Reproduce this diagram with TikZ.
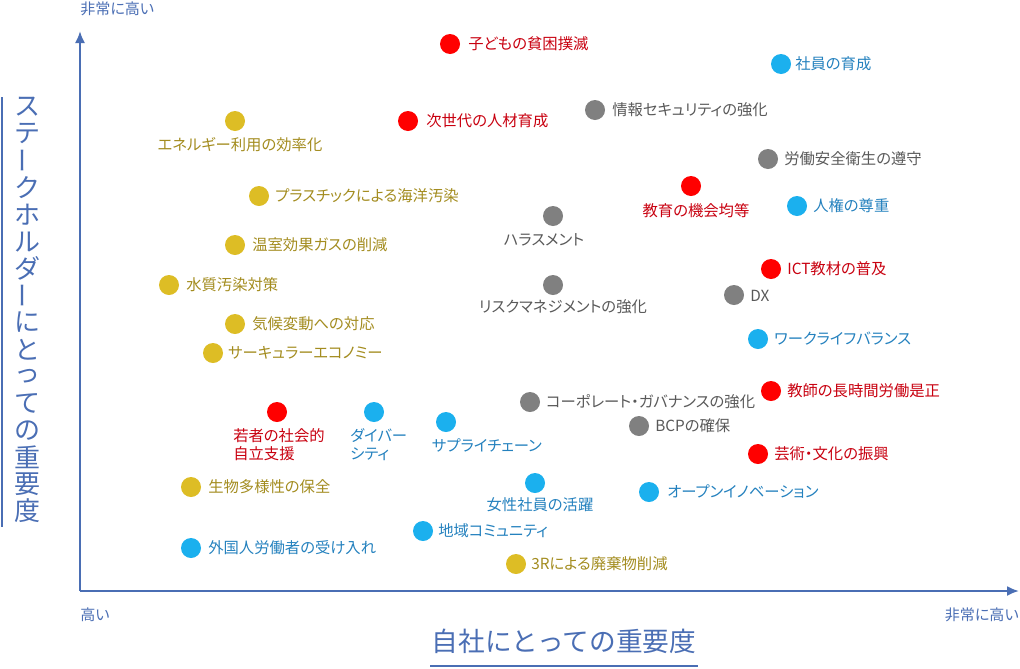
\documentclass[tikz,border=0pt]{standalone}
\usepackage{fontspec}
\usepackage{graphicx}
\setmainfont{Noto Sans CJK JP}[RawFeature={+palt}]
\newfontfamily\titlefont{Noto Sans CJK JP}
\usetikzlibrary{arrows.meta}
\definecolor{axisblue}{HTML}{4A6EB4}
\definecolor{dotred}{HTML}{FF0000}
\definecolor{txtred}{HTML}{C8000F}
\definecolor{dotblue}{HTML}{1BB0EE}
\definecolor{txtblue}{HTML}{2481BE}
\definecolor{dotgray}{HTML}{808080}
\definecolor{txtgray}{HTML}{595959}
\definecolor{dotyel}{HTML}{DDBD25}
\definecolor{txtyel}{HTML}{A38C1F}
\tikzset{
  dotbase/.style={circle,inner sep=0pt,minimum size=15pt},
  dr/.style={dotbase,fill=dotred},
  db/.style={dotbase,fill=dotblue},
  dg/.style={dotbase,fill=dotgray},
  dy/.style={dotbase,fill=dotyel},
  lab/.style={inner sep=0pt,font=\fontsize{11.5}{13.5}\selectfont},
  lr/.style={lab,text=txtred},
  lb/.style={lab,text=txtblue},
  lg/.style={lab,text=txtgray},
  ly/.style={lab,text=txtyel},
  axisline/.style={draw=axisblue,line width=1.5pt},
  axlab/.style={inner sep=0pt,text=axisblue,font=\fontsize{11.3}{13}\selectfont},
  ttl/.style={inner sep=0pt,text=axisblue,font=\titlefont\fontsize{20}{20}\selectfont},
  vttl/.style={inner sep=0pt,text=axisblue,font=\titlefont\fontsize{19.5}{19.5}\selectfont}
}
\begin{document}
\begin{tikzpicture}[x=0.75pt,y=-0.75pt]
\useasboundingbox (0,0) rectangle (1020,668);
% axes
\coordinate (O) at (80,591);
\coordinate (ytip) at (80,31);
\coordinate (xtip) at (1019,591);
\draw[axisline,-{Latex[length=9pt,width=7.5pt]}] (O) -- (ytip);
\draw[axisline,-{Latex[length=9pt,width=7.5pt]}] (O) -- (xtip);
\node[axlab,anchor=west] (yhigh) at (80,9) {非常に高い};
\node[axlab,anchor=west] (xlow) at (80,615) {高い};
\node[axlab,anchor=east] (xhigh) at (1019,615) {非常に高い};
% x title
\node[ttl] (xtitle) at (564,641) {自社にとっての重要度};
\coordinate (xu1) at (430,666);
\coordinate (xu2) at (698,666);
\draw[axisline] (xu1) -- (xu2);
% y title (vertical)
\foreach \c [count=\i] in {ス,テ,\rotatebox[origin=c]{90}{ー},ク,ホ,ル,ダ,\rotatebox[origin=c]{90}{ー},に,と,っ,て,の,重,要,度}{
  \node[vttl] (yt\i) at (27,{107+(\i-1)*26.93}) {\c};
}
\coordinate (yu1) at (2,97);
\coordinate (yu2) at (2,527);
\draw[axisline] (yu1) -- (yu2);
% items
\node[dr] (d1) at (450,44) {};  \node[lr,anchor=west] (l1) at (468,44) {子どもの貧困撲滅};
\node[db] (d2) at (781,64) {};  \node[lb,anchor=west] (l2) at (795,64) {社員の育成};
\node[dg] (d3) at (595,110) {}; \node[lg,anchor=west] (l3) at (612,110) {情報セキュリティの強化};
\node[dr] (d4) at (408,121) {}; \node[lr,anchor=west] (l4) at (426,121) {次世代の人材育成};
\node[dy] (d5) at (235,121) {}; \node[ly] (l5) at (240,145) {エネルギー利用の効率化};
\node[dg] (d6) at (768,159) {}; \node[lg,anchor=west] (l6) at (784,159) {労働安全衛生の遵守};
\node[dr] (d7) at (691,186) {}; \node[lr] (l7) at (696,211) {教育の機会均等};
\node[db] (d8) at (797,206) {}; \node[lb,anchor=west] (l8) at (813,206) {人権の尊重};
\node[dy] (d9) at (259,196) {}; \node[ly,anchor=west] (l9) at (275,196) {プラスチックによる海洋汚染};
\node[dg] (d10) at (553,216) {}; \node[lg] (l10) at (544,240) {ハラスメント};
\node[dy] (d11) at (235,245) {}; \node[ly,anchor=west] (l11) at (252,245) {温室効果ガスの削減};
\node[dr] (d12) at (771,269) {}; \node[lr,anchor=west] (l12) at (787,269) {ICT教材の普及};
\node[dy] (d13) at (169,285) {}; \node[ly,anchor=west] (l13) at (186,285) {水質汚染対策};
\node[dg] (d14) at (553,285) {}; \node[lg] (l14) at (563,307) {リスクマネジメントの強化};
\node[dg] (d15) at (734,295) {}; \node[lg,anchor=west] (l15) at (750,296) {DX};
\node[dy] (d16) at (235,324) {}; \node[ly,anchor=west] (l16) at (252,324) {気候変動への対応};
\node[db] (d17) at (758,339) {}; \node[lb,anchor=west] (l17) at (774,339) {ワークライフバランス};
\node[dy] (d18) at (213,353) {}; \node[ly,anchor=west] (l18) at (228,353) {サーキュラーエコノミー};
\node[dr] (d19) at (771,391) {}; \node[lr,anchor=west] (l19) at (787,391) {教師の長時間労働是正};
\node[dg] (d20) at (530,402) {}; \node[lg,anchor=west] (l20) at (546,402) {コーポレート・ガバナンスの強化};
\node[dr] (d21) at (277,412) {}; \node[lr,anchor=north west,align=left,font=\fontsize{11.5}{13.5}\selectfont] (l21) at (233,428) {若者の社会的\\自立支援};
\node[db] (d22) at (374,412) {}; \node[lb,anchor=north west,align=left,font=\fontsize{11.5}{13.5}\selectfont] (l22) at (350,428) {ダイバー\\シティ};
\node[db] (d23) at (446,422) {}; \node[lb] (l23) at (487,445) {サプライチェーン};
\node[dg] (d24) at (639,426) {}; \node[lg,anchor=west] (l24) at (655,426) {BCPの確保};
\node[dr] (d25) at (758,454) {}; \node[lr,anchor=west] (l25) at (774,454) {芸術・文化の振興};
\node[db] (d26) at (535,483) {}; \node[lb] (l26) at (540,505) {女性社員の活躍};
\node[db] (d27) at (649,492) {}; \node[lb,anchor=west] (l27) at (667,492) {オープンイノベーション};
\node[dy] (d28) at (191,487) {}; \node[ly,anchor=west] (l28) at (208,487) {生物多様性の保全};
\node[db] (d29) at (423,531) {}; \node[lb,anchor=west] (l29) at (438,531) {地域コミュニティ};
\node[db] (d30) at (191,548) {}; \node[lb,anchor=west] (l30) at (208,548) {外国人労働者の受け入れ};
\node[dy] (d31) at (516,564) {}; \node[ly,anchor=west] (l31) at (531,564) {3Rによる廃棄物削減};
\end{tikzpicture}
\end{document}
